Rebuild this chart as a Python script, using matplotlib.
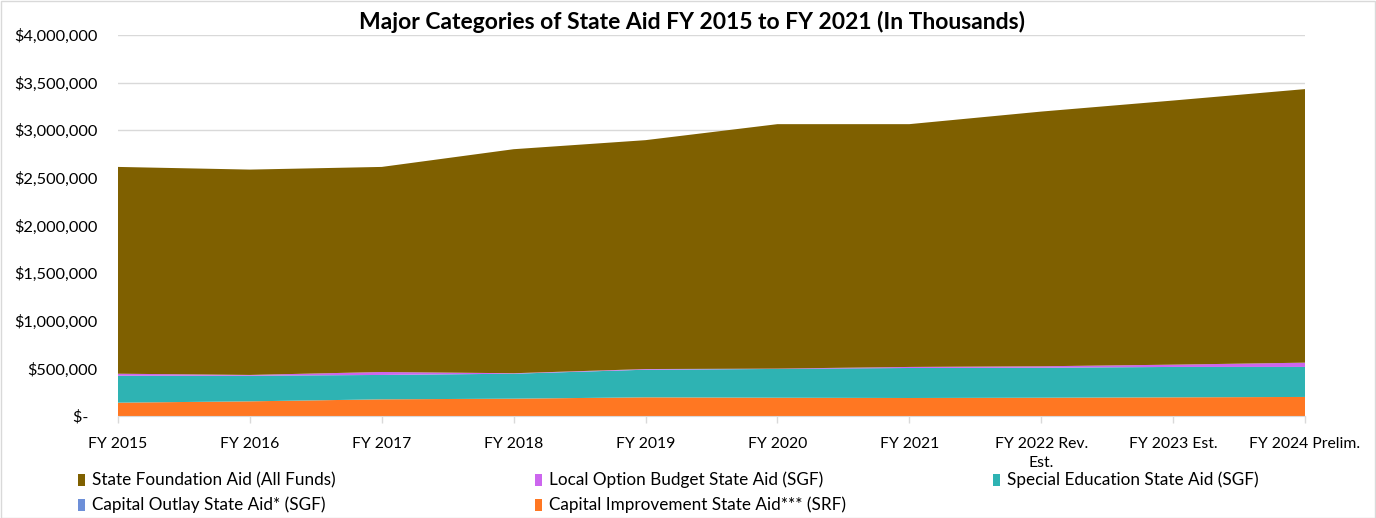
import matplotlib
matplotlib.use("Agg")
import matplotlib.pyplot as plt
from matplotlib.patches import Rectangle
from matplotlib.ticker import FuncFormatter
import numpy as np

plt.rcParams['font.family'] = ['Lato', 'DejaVu Sans']

categories = ["FY 2015", "FY 2016", "FY 2017", "FY 2018", "FY 2019", "FY 2020",
              "FY 2021", "FY 2022 Rev.\nEst.", "FY 2023 Est.", "FY 2024 Prelim."]

# values in thousands of dollars
capital_improvement = [140000, 154000, 175000, 182000, 196000, 192000, 189000, 192000, 196000, 200000]
capital_outlay = [0, 0, 0, 0, 0, 0, 0, 0, 0, 0]
special_education = [283000, 269000, 256000, 262000, 290000, 302000, 315000, 315000, 319000, 315000]
local_option_budget = [21000, 8000, 31000, 5000, 7000, 4000, 11000, 15000, 24000, 45000]
state_foundation = [2171000, 2156000, 2153000, 2352000, 2403000, 2566000, 2549000, 2674000, 2773000, 2872000]

series_names = ["Capital Improvement State Aid*** (SRF)", "Capital Outlay State Aid* (SGF)",
                "Special Education State Aid (SGF)", "Local Option Budget State Aid (SGF)",
                "State Foundation Aid (All Funds)"]
colors = {"State Foundation Aid (All Funds)": "#7F6000",
          "Local Option Budget State Aid (SGF)": "#CC66EE",
          "Special Education State Aid (SGF)": "#2EB3B3",
          "Capital Outlay State Aid* (SGF)": "#6D8FD8",
          "Capital Improvement State Aid*** (SRF)": "#FF7722"}

W, H = 1376, 518
fig = plt.figure(figsize=(W / 100, H / 100), dpi=100)
ax = fig.add_axes([118 / W, 1 - 416 / H, (1305 - 118) / W, (416 - 35) / H])

x = np.arange(len(categories))
data = [capital_improvement, capital_outlay, special_education, local_option_budget, state_foundation]
ax.stackplot(x, *data, colors=[colors[n] for n in series_names], linewidth=0)

ax.set_xlim(0, len(categories) - 1)
ax.set_ylim(0, 4000000)
ax.set_yticks(np.arange(0, 4000001, 500000))

def fmt(v, pos):
    if v == 0:
        return "$-  "
    return "${:,.0f}".format(v)

ax.yaxis.set_major_formatter(FuncFormatter(fmt))
ax.set_xticks(x)
ax.set_xticklabels(categories, fontsize=11.3, color="#000000", linespacing=1.5)
ax.tick_params(axis='y', length=0, labelsize=11.8, pad=15, colors="#000000")
ax.tick_params(axis='x', length=5, color="#d9d9d9", width=1, pad=10)
for t in ax.get_xticklabels():
    t.set_verticalalignment('top')

ax.grid(axis='y', color="#d9d9d9", linewidth=1)
ax.set_axisbelow(True)
for s in ["top", "right", "left"]:
    ax.spines[s].set_visible(False)
ax.spines["bottom"].set_color("#d9d9d9")

fig.text(692 / W, 1 - 22 / H, "Major Categories of State Aid FY 2015 to FY 2021 (In Thousands)",
         ha="center", va="center", fontsize=16.5, fontweight="bold")

# legend
legend_items = [("State Foundation Aid (All Funds)", 78, 480),
                ("Local Option Budget State Aid (SGF)", 535, 480),
                ("Special Education State Aid (SGF)", 993, 480),
                ("Capital Outlay State Aid* (SGF)", 78, 505),
                ("Capital Improvement State Aid*** (SRF)", 535, 505)]
for name, px, py in legend_items:
    fig.add_artist(Rectangle((px / W, 1 - (py + 6) / H), 7 / W, 12 / H,
                             facecolor=colors[name], edgecolor="none", transform=fig.transFigure))
    fig.text((px + 14) / W, 1 - py / H, name, ha="left", va="center", fontsize=12.3)

fig.add_artist(Rectangle((0.5 / W, 0.5 / H), (W - 1.5) / W, (H - 1.5) / H, fill=False,
                         edgecolor="#d9d9d9", linewidth=1, transform=fig.transFigure))

fig.savefig("out.png", dpi=100)
